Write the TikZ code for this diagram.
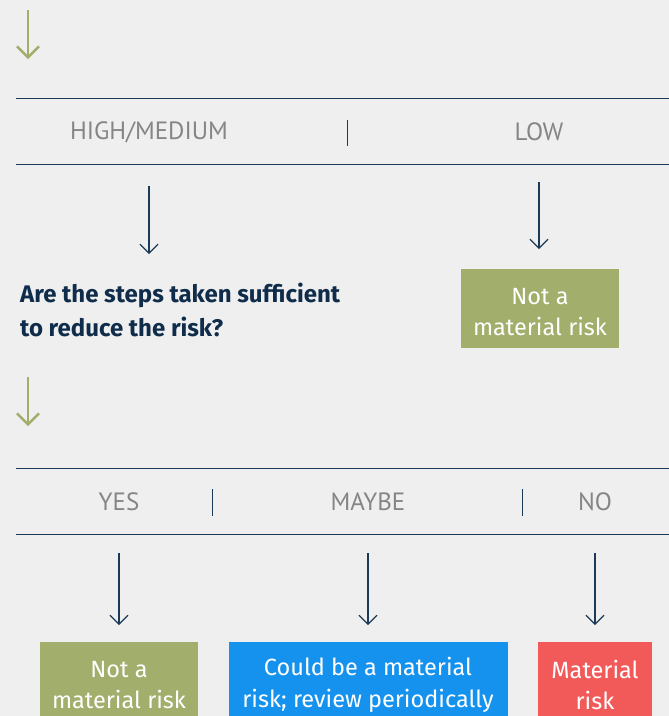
\documentclass[tikz,border=0pt]{standalone}
\usepackage{fontspec}
\setmainfont{PT Sans}
\newfontfamily\boxfont{Fira Sans}
\usetikzlibrary{arrows.meta}
\definecolor{bg}{HTML}{EFEFEF}
\definecolor{leaf}{HTML}{A2AE6C}
\definecolor{navy}{HTML}{1B3A57}
\definecolor{ink}{HTML}{0F2D4A}
\definecolor{label}{HTML}{858585}
\definecolor{sky}{HTML}{1592EE}
\definecolor{coral}{HTML}{F25A5A}
\tikzset{
  rule/.style={navy, line width=1pt},
  divider/.style={navy, line width=1pt},
  header/.style={text=label, font=\fontsize{25}{28}\selectfont, inner sep=0pt},
  flow/.style={navy, line width=1.1pt, -{Straight Barb[length=9pt,width=18pt,line width=1.1pt]}},
  stage/.style={leaf, line width=2.4pt, -{Straight Barb[length=11pt,width=22pt,line width=2.4pt]}},
  panel/.style={anchor=north west, inner sep=0pt},
  outcome/.style={text=white, font=\boxfont\fontsize{23.5}{31.5}\selectfont, align=center, inner sep=0pt},
  question/.style={text=ink, font=\boxfont\bfseries\fontsize{24}{34}\selectfont, align=left, inner sep=0pt, anchor=west}
}
\begin{document}
\begin{tikzpicture}[x=1pt,y=-1pt]
\useasboundingbox[fill=bg] (0,0) rectangle (669,716);
\clip (0,0) rectangle (669,716);

% first stage
\coordinate (s1a) at (28,10);
\coordinate (s1b) at (28,59);
\draw[stage] (s1a) -- (s1b);

\draw[rule] (16,98) coordinate (r1l) -- (669,98) coordinate (r1r);
\draw[rule] (16,164) coordinate (r2l) -- (669,164) coordinate (r2r);
\node[header] (hm) at (149,132) {HIGH/MEDIUM};
\node[header] (low) at (539,132) {LOW};
\draw[divider] (347,120) coordinate (d1t) -- (347,146) coordinate (d1b);

\coordinate (a1s) at (149,186);
\coordinate (a1e) at (149,254);
\draw[flow] (a1s) -- (a1e);
\coordinate (a2s) at (539,182);
\coordinate (a2e) at (539,249);
\draw[flow] (a2s) -- (a2e);

\node[question] (q) at (20,310) {Are the steps taken sufficient\\to reduce the risk?};

\node[panel, fill=leaf, minimum width=158pt, minimum height=79pt] (nm1) at (461,269) {};
\node[outcome] (nm1t) at (540,312) {Not a\\material risk};

% second stage
\coordinate (s2a) at (28,377);
\coordinate (s2b) at (28,426);
\draw[stage] (s2a) -- (s2b);

\draw[rule] (16,468) coordinate (r3l) -- (669,468) coordinate (r3r);
\draw[rule] (16,534) coordinate (r4l) -- (669,534) coordinate (r4r);
\node[header] (yes) at (119,502) {YES};
\node[header] (maybe) at (368,502) {MAYBE};
\node[header] (no) at (595,502) {NO};
\draw[divider] (212,489) coordinate (d2t) -- (212,516) coordinate (d2b);
\draw[divider] (522,489) coordinate (d3t) -- (522,516) coordinate (d3b);

\node[panel, fill=leaf, minimum width=158pt, minimum height=90pt] (nm2) at (40,642) {};
\node[panel, fill=sky, minimum width=279pt, minimum height=90pt] (cb) at (229,642) {};
\node[panel, fill=coral, minimum width=114pt, minimum height=90pt] (mr) at (538,642) {};

\node[outcome] (nm2t) at (119,685) {Not a\\material risk};
\node[outcome] (cbt) at (368,685) {Could be a material\\risk; review periodically};
\node[outcome] (mrt) at (595,685) {Material\\risk};

\draw[flow] (119,553) coordinate (b1s) -- (119,625) coordinate (b1e);
\draw[flow] (368,553) coordinate (b2s) -- (368,625) coordinate (b2e);
\draw[flow] (595,553) coordinate (b3s) -- (595,625) coordinate (b3e);
\end{tikzpicture}
\end{document}
